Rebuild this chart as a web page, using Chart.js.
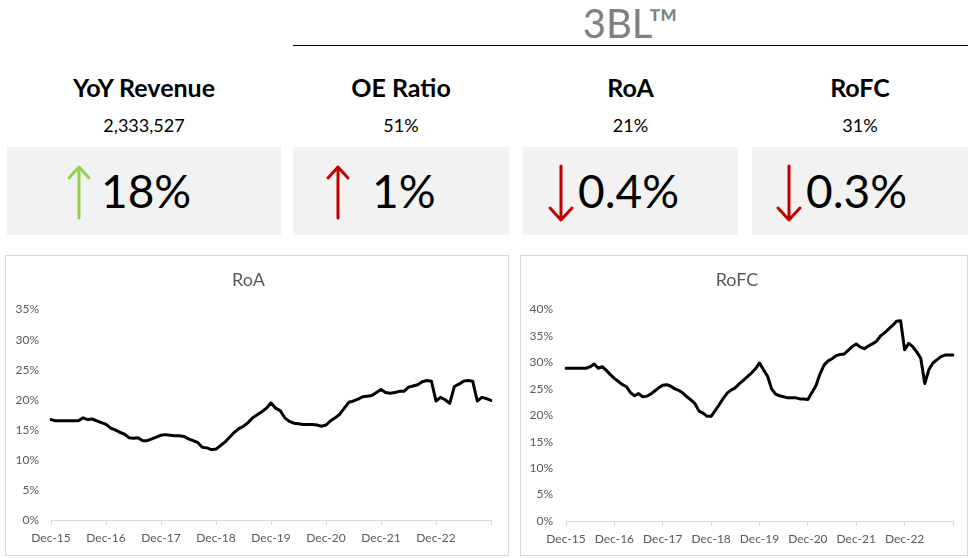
<!DOCTYPE html>
<html lang="en">
<head>
    <meta charset="UTF-8">
    <title>3BL Dashboard</title>
    <script src="https://cdn.jsdelivr.net/npm/chart.js"></script>
    <style>
        body {
            margin: 0;
            width: 974px;
            height: 558px;
            position: relative;
            overflow: hidden;
            background: #fff;
            font-family: Lato, 'Liberation Sans', sans-serif;
            color: #000;
        }
        .abs { position: absolute; }
        .brand { left: 293px; width: 675px; top: 0; height: 46px; line-height: 46px; text-align: center; font-size: 40px; color: #7f7f7f; }
        .rule { left: 293px; top: 45px; width: 675px; border-top: 1px solid #000; }
        .head { top: 72px; height: 30px; line-height: 30px; font-size: 25px; font-weight: bold; text-align: center; }
        .val { top: 114px; height: 22px; line-height: 22px; font-size: 18px; text-align: center; }
        .tile { top: 147px; height: 88px; background: #f2f2f2; }
        .big { top: 0; height: 88px; line-height: 88px; font-size: 46px; white-space: nowrap; }
        .tile svg { position: absolute; left: 0; top: 0; }
        .chart-box { top: 255px; height: 299px; border: 1px solid #d9d9d9; background: #fff; }
        .chart-box canvas { display: block; }
    </style>
</head>
<body>
    <div class="abs brand">3BL™</div>
    <div class="abs rule"></div>

    <div class="abs head" style="left:7px;width:274px">YoY Revenue</div>
    <div class="abs head" style="left:293px;width:216px">OE Ratio</div>
    <div class="abs head" style="left:523px;width:215px">RoA</div>
    <div class="abs head" style="left:752px;width:216px">RoFC</div>

    <div class="abs val" style="left:7px;width:274px">2,333,527</div>
    <div class="abs val" style="left:293px;width:216px">51%</div>
    <div class="abs val" style="left:523px;width:215px">21%</div>
    <div class="abs val" style="left:752px;width:216px">31%</div>

    <div class="abs tile" style="left:7px;width:274px">
        <svg width="274" height="88"><g fill="none" stroke="#92d050" stroke-width="3" stroke-linecap="round" stroke-linejoin="round">
            <path d="M72 71 L72 20 M62 31 L72 20 L82 31"/></g></svg>
        <div class="abs big" style="left:94px">18%</div>
    </div>
    <div class="abs tile" style="left:293px;width:216px">
        <svg width="216" height="88"><g fill="none" stroke="#c00000" stroke-width="3" stroke-linecap="round" stroke-linejoin="round">
            <path d="M45 71 L45 20 M35 31 L45 20 L55 31"/></g></svg>
        <div class="abs big" style="left:79px">1%</div>
    </div>
    <div class="abs tile" style="left:523px;width:215px">
        <svg width="215" height="88"><g fill="none" stroke="#c00000" stroke-width="3" stroke-linecap="round" stroke-linejoin="round">
            <path d="M38 19 L38 72 M27 61 L38 73 L49 61"/></g></svg>
        <div class="abs big" style="left:55px">0.4%</div>
    </div>
    <div class="abs tile" style="left:752px;width:216px">
        <svg width="216" height="88"><g fill="none" stroke="#c00000" stroke-width="3" stroke-linecap="round" stroke-linejoin="round">
            <path d="M37 19 L37 72 M26 61 L37 73 L48 61"/></g></svg>
        <div class="abs big" style="left:54px">0.3%</div>
    </div>

    <div class="abs chart-box" style="left:5px;width:502px"><canvas id="roaChart" width="502" height="299"></canvas></div>
    <div class="abs chart-box" style="left:520px;width:446px"><canvas id="rofcChart" width="446" height="299"></canvas></div>

    <script>
        // monthly categories Dec-15 .. Dec-23
        var monthNames = ['Jan', 'Feb', 'Mar', 'Apr', 'May', 'Jun', 'Jul', 'Aug', 'Sep', 'Oct', 'Nov', 'Dec'];
        var yearTicks = ['Dec-15', 'Dec-16', 'Dec-17', 'Dec-18', 'Dec-19', 'Dec-20', 'Dec-21', 'Dec-22'];
        var months = [];
        for (let i = 0; i < 97; i++) {
            let m = (11 + i) % 12;
            let y = 15 + Math.floor((11 + i) / 12);
            months.push(monthNames[m] + '-' + y);
        }

        // RoA, %
        var roaValues = [
            16.7, 16.5, 16.5, 16.5, 16.5, 16.5, 16.5, 17.0, 16.7, 16.8, 16.5, 16.2,
            15.9, 15.3, 15.0, 14.6, 14.3, 13.7, 13.6, 13.7, 13.2, 13.2, 13.5, 13.8,
            14.1, 14.2, 14.1, 14.0, 14.0, 13.9, 13.5, 13.2, 12.9, 12.1, 12.0, 11.7,
            11.8, 12.4, 13.0, 13.8, 14.6, 15.2, 15.6, 16.2, 17.0, 17.5, 18.0, 18.6,
            19.5, 18.6, 18.2, 17.0, 16.4, 16.1, 16.0, 15.9, 15.9, 15.9, 15.8, 15.6,
            15.8, 16.5, 17.0, 17.6, 18.6, 19.6, 19.8, 20.1, 20.5, 20.6, 20.7, 21.2,
            21.7, 21.2, 21.1, 21.2, 21.4, 21.4, 22.1, 22.3, 22.5, 23.0, 23.2, 23.1,
            19.8, 20.4, 20.0, 19.4, 22.2, 22.6, 23.1, 23.2, 23.1, 19.8, 20.4, 20.2,
            19.9
        ];

        // RoFC, %
        var rofcValues = [
            28.9, 28.9, 28.9, 28.9, 28.9, 28.9, 29.2, 29.7, 28.9, 29.2, 28.5, 27.7,
            27.0, 26.4, 25.8, 25.4, 24.3, 23.7, 24.1, 23.5, 23.6, 24.0, 24.6, 25.2,
            25.7, 25.8, 25.5, 25.0, 24.7, 24.2, 23.5, 22.9, 22.2, 20.8, 20.4, 19.8,
            19.8, 20.9, 22.0, 23.2, 24.2, 24.8, 25.2, 26.0, 26.6, 27.3, 28.0, 28.8,
            29.9, 28.6, 27.4, 25.0, 24.0, 23.7, 23.5, 23.3, 23.3, 23.3, 23.1, 23.1,
            23.0, 24.3, 25.6, 27.8, 29.5, 30.3, 30.7, 31.3, 31.5, 31.6, 32.3, 33.0,
            33.5, 32.9, 32.6, 33.1, 33.5, 34.0, 35.0, 35.6, 36.3, 37.0, 37.8, 37.9,
            32.4, 33.6, 33.0, 32.0, 30.8, 26.0, 28.6, 29.9, 30.5, 31.1, 31.4, 31.4,
            31.4
        ];

        var tickFont = { family: 'Lato, "Liberation Sans", sans-serif', size: 12 };
        var tickColor = '#595959';

        function makeChart(id, title, values, yMax, yLabelPad, xHeight, padRight) {
            var ctx = document.getElementById(id).getContext('2d');
            return new Chart(ctx, {
                type: 'line',
                data: {
                    labels: months,
                    datasets: [{
                        data: values,
                        borderColor: '#000',
                        borderWidth: 3,
                        pointRadius: 0,
                        tension: 0,
                        borderJoinStyle: 'round',
                        borderCapStyle: 'round'
                    }]
                },
                options: {
                    responsive: false,
                    animation: false,
                    layout: { padding: { left: 0, right: padRight, top: 0, bottom: 0 } },
                    plugins: {
                        legend: { display: false },
                        tooltip: { enabled: false },
                        title: {
                            display: true,
                            text: title,
                            color: '#595959',
                            font: { family: 'Lato, "Liberation Sans", sans-serif', size: 18, weight: 'normal' },
                            padding: { top: 13, bottom: 19 }
                        }
                    },
                    scales: {
                        x: {
                            offset: false,
                            border: { display: true, color: '#d9d9d9', width: 1 },
                            grid: { display: true, drawOnChartArea: false, drawTicks: true, tickLength: 5, color: '#d9d9d9' },
                            ticks: {
                                autoSkip: false,
                                maxRotation: 0,
                                padding: 6,
                                color: tickColor,
                                font: tickFont,
                                callback: function (v, i) {
                                    if (i % 12 !== 0) return null;
                                    return yearTicks[i / 12] || '';
                                }
                            },
                            afterFit: function (s) { s.height = xHeight; }
                        },
                        y: {
                            min: 0,
                            max: yMax,
                            border: { display: false },
                            grid: { display: false, drawTicks: false },
                            ticks: {
                                stepSize: 5,
                                padding: yLabelPad,
                                color: tickColor,
                                font: tickFont,
                                callback: function (v) { return v + '%'; }
                            },
                            afterFit: function (s) { s.width = 45; }
                        }
                    }
                }
            });
        }

        makeChart('roaChart', 'RoA', roaValues, 35, 12, 35, 17);
        makeChart('rofcChart', 'RoFC', rofcValues, 40, 13, 34, 14);
    </script>
</body>
</html>
